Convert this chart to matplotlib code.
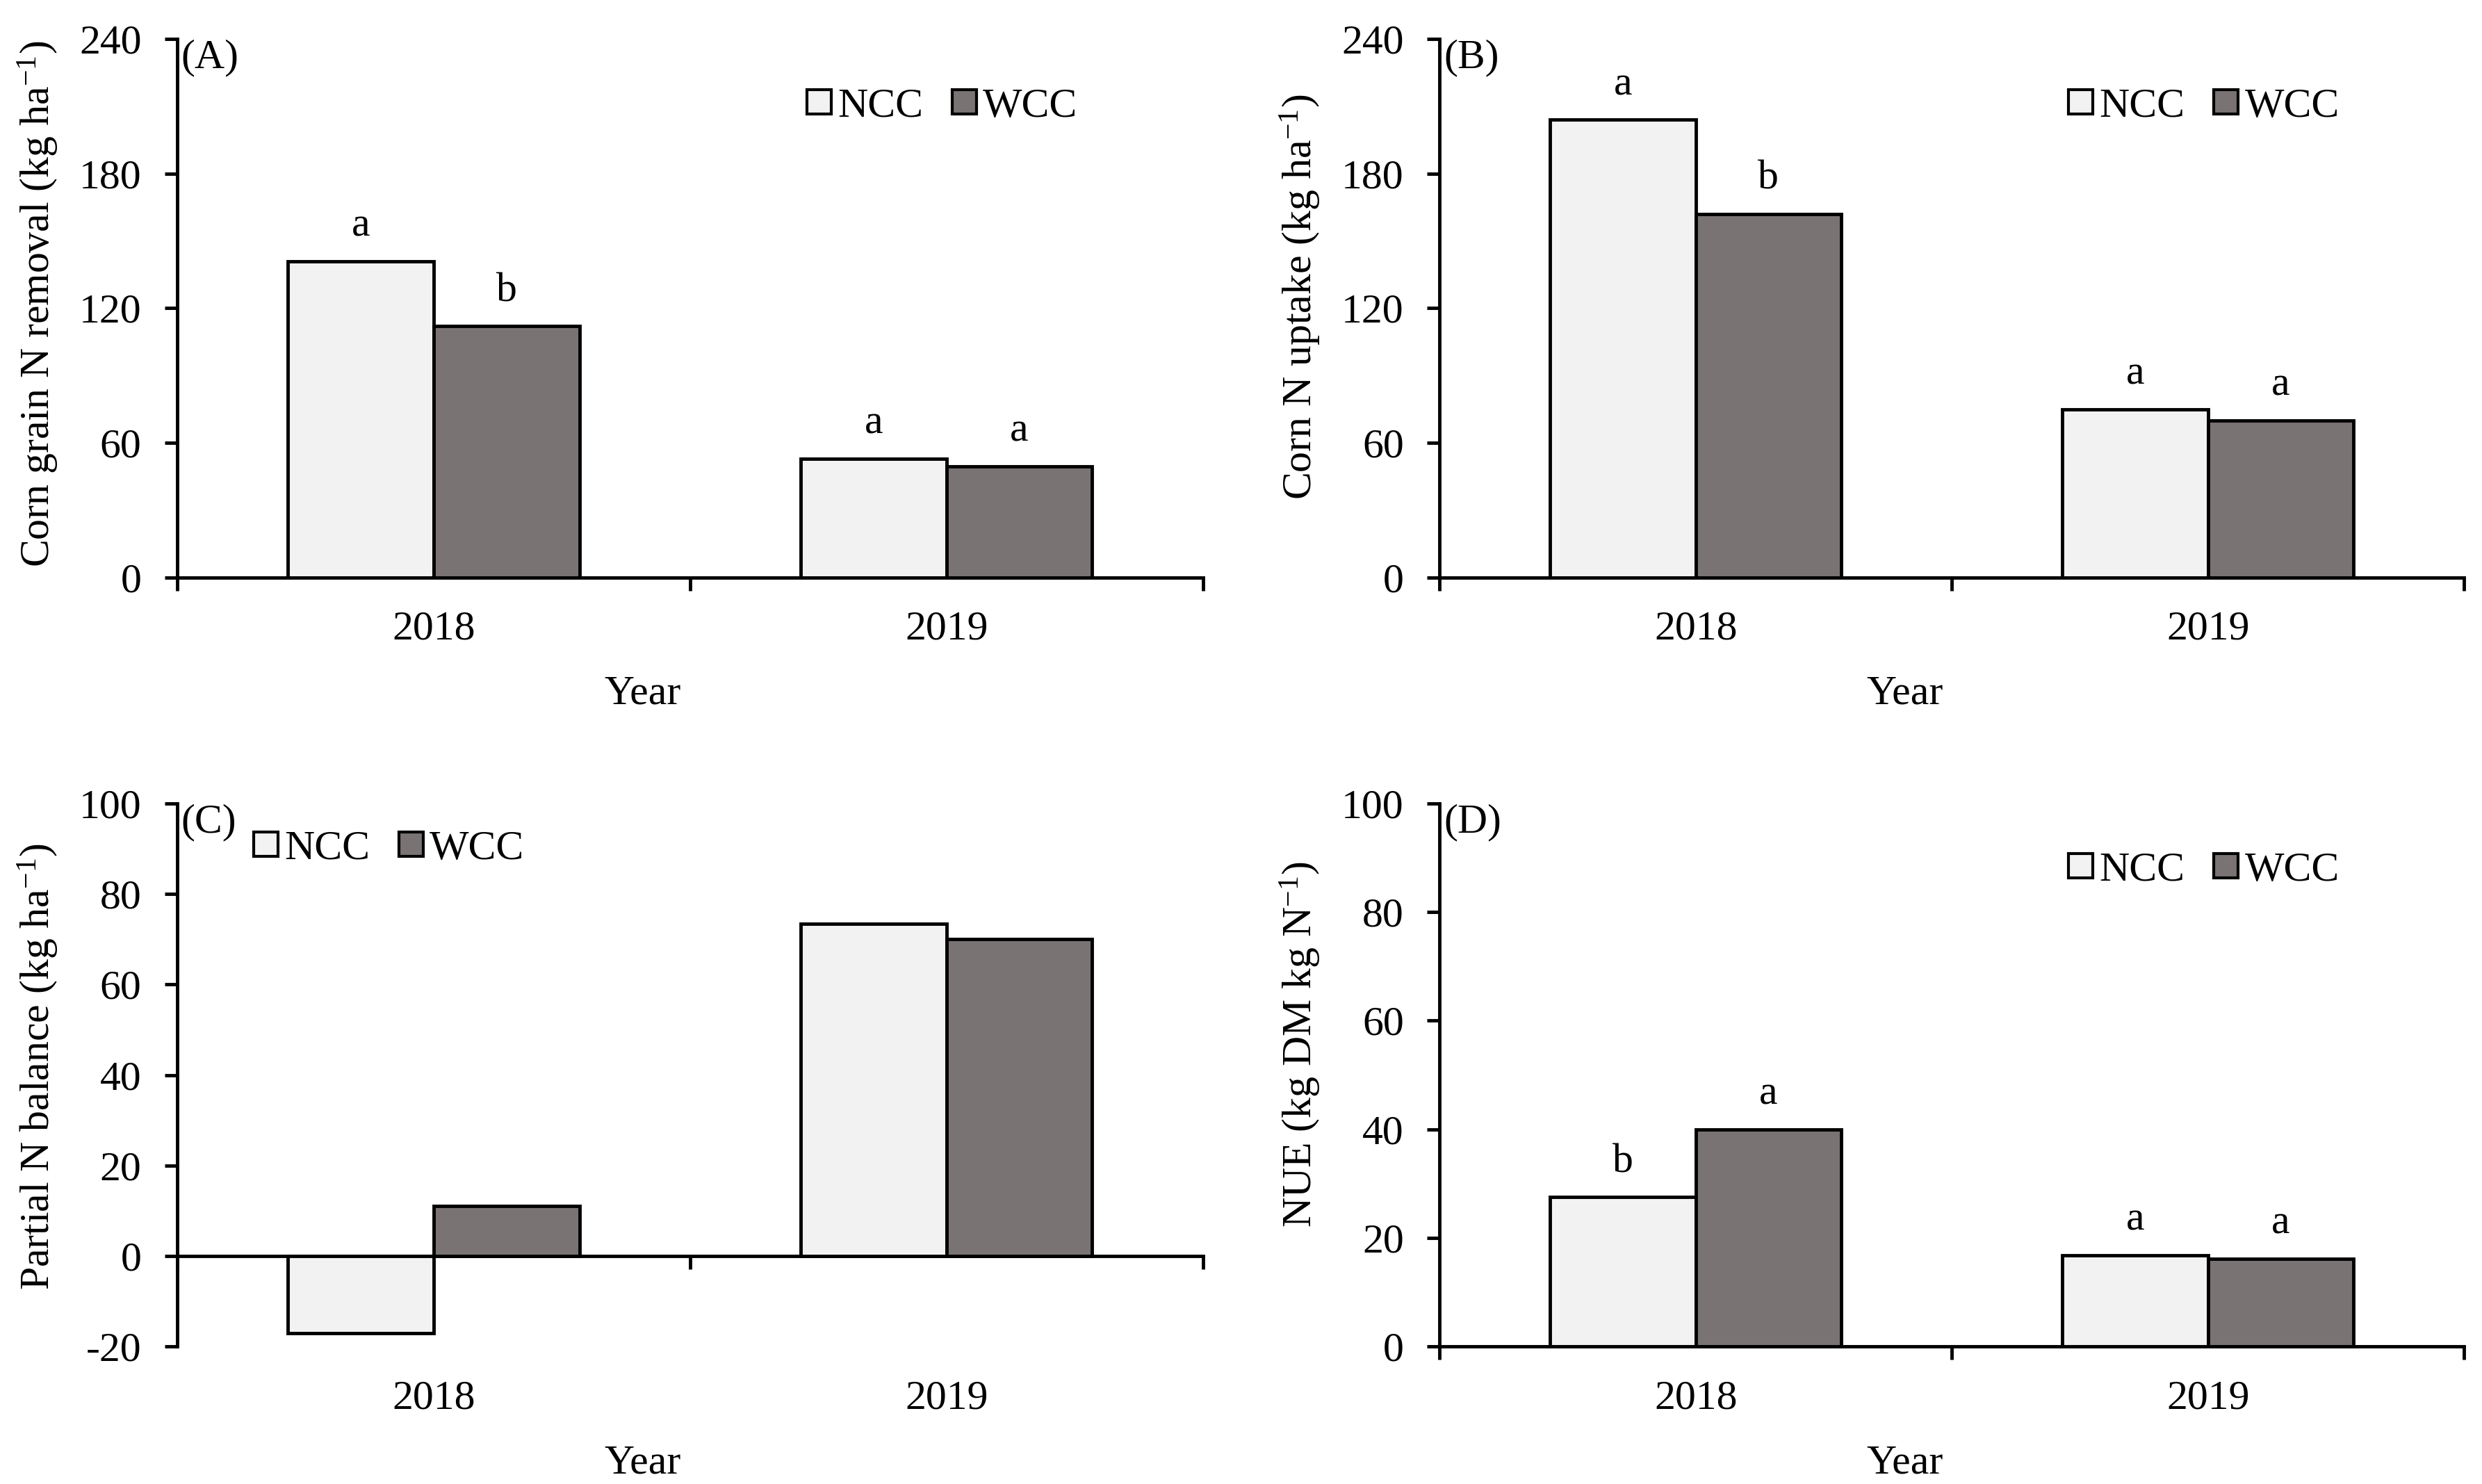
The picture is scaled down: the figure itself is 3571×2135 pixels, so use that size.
import matplotlib
matplotlib.use('Agg')
import matplotlib.pyplot as plt
from matplotlib.patches import Patch
import numpy as np

# ---------------- data ----------------
years = ['2018', '2019']
series = ['NCC', 'WCC']

grain_removal_ncc = [141, 53]
grain_removal_wcc = [112, 49.5]
grain_removal_let_ncc = ['a', 'a']
grain_removal_let_wcc = ['b', 'a']

uptake_ncc = [204, 75]
uptake_wcc = [162, 70]
uptake_let_ncc = ['a', 'a']
uptake_let_wcc = ['b', 'a']

balance_ncc = [-17, 73.5]
balance_wcc = [11, 70]

nue_ncc = [27.5, 16.8]
nue_wcc = [40, 16.2]
nue_let_ncc = ['b', 'a']
nue_let_wcc = ['a', 'a']

yticks_ab = [0, 60, 120, 180, 240]
yticks_c = [-20, 0, 20, 40, 60, 80, 100]
yticks_d = [0, 20, 40, 60, 80, 100]

# ---------------- style ----------------
plt.rcParams['font.family'] = ['Liberation Serif', 'DejaVu Serif']
plt.rcParams['mathtext.fontset'] = 'custom'
plt.rcParams['mathtext.rm'] = 'Liberation Serif'
plt.rcParams['mathtext.it'] = 'Liberation Serif:italic'
plt.rcParams['axes.unicode_minus'] = False

FS = 43
LW = 3.5
COLORS = ['#f2f2f2', '#7a7373']
W = 0.284

panels = [
    dict(tag='(A)', ncc=grain_removal_ncc, wcc=grain_removal_wcc,
         lncc=grain_removal_let_ncc, lwcc=grain_removal_let_wcc,
         yticks=yticks_ab, ylabel=r'Corn grain N removal (kg ha$^{-1}$)',
         pos=[0.0714, 0.6108, 0.4133, 0.3630], leg=(0.614, 0.874), ylab_y=0.508),
    dict(tag='(B)', ncc=uptake_ncc, wcc=uptake_wcc,
         lncc=uptake_let_ncc, lwcc=uptake_let_wcc,
         yticks=yticks_ab, ylabel=r'Corn N uptake (kg ha$^{-1}$)',
         pos=[0.5800, 0.6108, 0.4128, 0.3630], leg=(0.614, 0.874), ylab_y=0.521),
    dict(tag='(C)', ncc=balance_ncc, wcc=balance_wcc,
         lncc=None, lwcc=None,
         yticks=yticks_c, ylabel=r'Partial N balance (kg ha$^{-1}$)',
         pos=[0.0714, 0.0927, 0.4133, 0.3658], leg=(0.0745, 0.916), ylab_y=0.516),
    dict(tag='(D)', ncc=nue_ncc, wcc=nue_wcc,
         lncc=nue_let_ncc, lwcc=nue_let_wcc,
         yticks=yticks_d, ylabel=r'NUE (kg DM kg N$^{-1}$)',
         pos=[0.5800, 0.0927, 0.4128, 0.3658], leg=(0.614, 0.876), ylab_y=0.556),
]

fig = plt.figure(figsize=(35.71, 21.35), dpi=100)

for p in panels:
    ax = fig.add_axes(p['pos'])
    x = np.arange(len(years))
    ax.bar(x - W / 2, p['ncc'], W, color=COLORS[0], edgecolor='black',
           linewidth=LW, zorder=3)
    ax.bar(x + W / 2, p['wcc'], W, color=COLORS[1], edgecolor='black',
           linewidth=LW, zorder=3)
    ax.set_xlim(-0.5, len(years) - 0.5)
    ax.set_ylim(p['yticks'][0], p['yticks'][-1])

    for s in ['top', 'right']:
        ax.spines[s].set_visible(False)
    for s in ['left', 'bottom']:
        ax.spines[s].set_linewidth(LW)
    ax.spines['bottom'].set_position(('data', 0))

    ax.set_xticks(np.arange(-0.5, len(years), 1.0))
    ax.set_xticklabels([])
    ax.tick_params(axis='x', direction='out', length=14, width=LW)
    ax.set_yticks(p['yticks'])
    ax.set_yticklabels([str(t) for t in p['yticks']], fontsize=FS)
    ax.tick_params(axis='y', direction='out', length=13, width=LW, pad=24)

    for xi, yr in zip(x, years):
        ax.annotate(yr, xy=(xi, 0), xycoords=('data', 'axes fraction'),
                    xytext=(0, -34.5), textcoords='offset points',
                    ha='center', va='top', fontsize=FS)

    if p['lncc'] is not None:
        for xi, v, l in zip(x, p['ncc'], p['lncc']):
            ax.annotate(l, xy=(xi - W / 2, v), xytext=(0, 26),
                        textcoords='offset points', ha='center',
                        va='baseline', fontsize=FS)
        for xi, v, l in zip(x, p['wcc'], p['lwcc']):
            ax.annotate(l, xy=(xi + W / 2, v), xytext=(0, 26),
                        textcoords='offset points', ha='center',
                        va='baseline', fontsize=FS)

    ax.set_ylabel(p['ylabel'], fontsize=FS, va='center')
    ax.yaxis.set_label_coords(-0.136, p['ylab_y'])
    ax.set_xlabel('Year', fontsize=FS, va='center')
    ax.xaxis.set_label_coords(0.454, -0.216)

    ax.text(0.004, 1.0, p['tag'], transform=ax.transAxes, ha='left',
            va='top', fontsize=FS)

    handles = [Patch(facecolor=c, edgecolor='black', linewidth=3)
               for c in COLORS]
    ax.legend(handles, series, loc='center left', bbox_to_anchor=p['leg'],
              ncol=2, frameon=False, fontsize=FS, handlelength=0.58,
              handleheight=0.52, handletextpad=0.16, columnspacing=0.7,
              borderpad=0, borderaxespad=0)

fig.savefig('out.png', dpi=100)
